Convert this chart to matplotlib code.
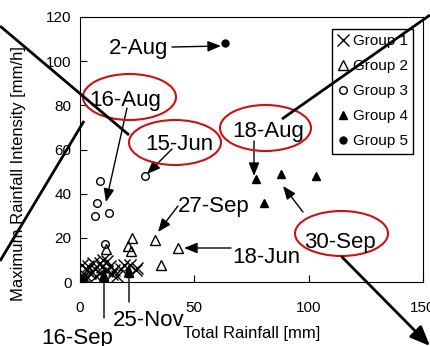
import matplotlib
matplotlib.use('Agg')
import matplotlib.pyplot as plt
from matplotlib.patches import Ellipse, FancyArrowPatch

plt.rcParams['font.family'] = ['Liberation Sans', 'DejaVu Sans']

# Group data: total rainfall [mm] vs maximum rainfall intensity [mm/h]
g1_x = [0.5, 1.0, 1.5, 2.0, 0.3, 2.5, 0.7, 3.6, 5.8, 8.7, 10.2, 11.6, 13.1, 16.0,
        21.8, 24.8, 8.7, 4.4, 6.5, 12.0, 14.0, 18.0, 9.5, 3.0, 7.0, 15.0, 19.2, 24.4]
g1_y = [1.0, 2.0, 0.5, 3.0, 2.5, 1.5, 7.9, 7.1, 8.6, 8.6, 10.1, 9.4, 7.1, 2.6,
        7.9, 6.4, 4.1, 4.1, 6.0, 5.0, 3.5, 6.0, 7.0, 5.5, 2.5, 5.5, 7.7, 5.5]
g2_x = [11.4, 22.7, 21.0, 22.3, 32.8, 35.4, 42.8]
g2_y = [15.0, 20.0, 16.4, 14.0, 19.0, 7.7, 15.5]
g3_x = [8.7, 7.4, 6.6, 12.7, 28.4, 10.9]
g3_y = [45.9, 35.9, 30.0, 31.4, 48.2, 17.3]
g4_x = [76.9, 87.8, 103.0, 80.3, 10.5, 21.4]
g4_y = [46.6, 49.0, 48.0, 36.0, 2.0, 4.0]
g5_x = [63.3]
g5_y = [108.0]

group_labels = ['Group 1', 'Group 2', 'Group 3', 'Group 4', 'Group 5']

# event labels: text, text position (image px, baseline), arrow tail, arrow head
events = [
    ('2-Aug', (139, 54), (172, 47), (221, 46)),
    ('16-Aug', (125, 106), (127, 108), (106, 202)),
    ('15-Jun', (179, 150), (172, 149), (147, 174)),
    ('18-Aug', (268, 137), (254, 141), (254, 176)),
    ('27-Sep', (214, 212), (178, 206), (158, 232)),
    ('18-Jun', (266, 263), (231, 248), (184, 248)),
    ('30-Sep', (340, 248), (303, 212), (283, 186)),
    ('16-Sep', (77, 344), (104, 318), (104, 268)),
    ('25-Nov', (149, 326), (129, 302), (129, 264)),
]
circled = [(129.5, 97, 93, 46), (175, 142.5, 92, 45), (265.5, 128, 91, 46), (341.5, 233.5, 93, 45)]
strokes = [((0, 26), (129, 135)), ((84, 121), (0, 261)), ((282, 119), (430, 15))]

fig = plt.figure(figsize=(4.3, 3.46), dpi=100)
ax = fig.add_axes([80 / 430, 64 / 346, 343 / 430, 265 / 346])

ax.plot(g1_x, g1_y, 'x', color='k', ms=8, mew=1.0, label=group_labels[0])
ax.plot(g2_x, g2_y, '^', mfc='none', mec='k', ms=7, mew=1.0, label=group_labels[1])
ax.plot(g3_x, g3_y, 'o', mfc='none', mec='k', ms=5.5, mew=1.0, label=group_labels[2])
ax.plot(g4_x, g4_y, '^', color='k', ms=6, label=group_labels[3])
ax.plot(g5_x, g5_y, 'o', color='k', ms=5, label=group_labels[4])

ax.set_xlim(0, 150)
ax.set_ylim(0, 120)
ax.set_xticks([0, 50, 100, 150])
ax.set_yticks(range(0, 121, 20))
ax.tick_params(direction='in', length=5, labelsize=11, colors='k')
ax.tick_params(axis='x', pad=14)
ax.tick_params(axis='y', pad=6)
ax.set_xlabel('Total Rainfall [mm]', fontsize=12)
ax.set_ylabel('Maximum Rainfall Intensity [mm/h]', fontsize=12)
ax.yaxis.set_label_coords(-0.158, 0.41)
ax.xaxis.set_label_coords(0.5, -0.165)

leg = ax.legend(loc='upper right', bbox_to_anchor=(0.971, 0.955), borderaxespad=0,
                fancybox=False, edgecolor='k', framealpha=1, fontsize=11,
                handlelength=0.7, handletextpad=0.3, labelspacing=0.72,
                borderpad=0.35, numpoints=1)
leg.get_frame().set_linewidth(1.0)

# overlay in image pixel coordinates for annotations
ov = fig.add_axes([0, 0, 1, 1], zorder=5)
ov.set_xlim(0, 430)
ov.set_ylim(346, 0)
ov.axis('off')
ov.patch.set_alpha(0)

for text, tpos, tail, head in events:
    ov.text(tpos[0], tpos[1], text, fontsize=16, ha='center', va='baseline')
    ov.add_patch(FancyArrowPatch(tail, head, arrowstyle='-|>,head_length=8,head_width=3.2',
                                 mutation_scale=1, color='k', lw=1.0, shrinkA=0, shrinkB=0))

for cx, cy, w, h in circled:
    ov.add_patch(Ellipse((cx, cy), w, h, fill=False, edgecolor='#cc1111', lw=1.5))

for p0, p1 in strokes:
    ov.plot([p0[0], p1[0]], [p0[1], p1[1]], color='k', lw=2.0, solid_capstyle='butt')
ov.add_patch(FancyArrowPatch((342, 257), (430, 346), arrowstyle='-|>,head_length=12,head_width=5',
                             mutation_scale=1, color='k', lw=2.0, shrinkA=0, shrinkB=0))

fig.savefig('out.png', dpi=100)
